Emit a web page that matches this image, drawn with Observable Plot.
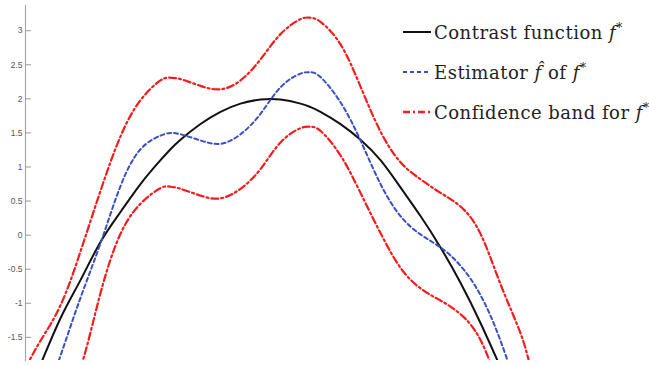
<!DOCTYPE html>
<html>
<head>
<meta charset="utf-8">
<script src="https://cdn.jsdelivr.net/npm/d3@7"></script>
<script src="https://cdn.jsdelivr.net/npm/@observablehq/plot@0.6"></script>
<style>
  html, body { margin: 0; padding: 0; background: #fff; }
  #wrap { position: relative; width: 649px; height: 366px; overflow: hidden; }
  #legend { position: absolute; left: 403px; top: 18px; font-family: "DejaVu Serif", serif; font-size: 18px; letter-spacing: 0.5px; color: #222; }
  .row { position: absolute; left: 0; height: 28px; display: flex; align-items: center; white-space: nowrap; }
  .row svg { display: block; margin-right: 2px; }
  .row i { font-style: italic; }
  sup { font-size: 12px; vertical-align: 7px; line-height: 0; }
</style>
</head>
<body>
<div id="wrap"></div>
<script>
// abscissa (arbitrary units, no axis shown)
const xs = [0.25, 0.40, 0.60, 0.80, 1.00, 1.20, 1.40, 1.60, 1.70, 1.80, 2.00, 2.20, 2.40, 2.60, 2.80, 3.00, 3.10, 3.20, 3.40, 3.60, 3.80, 4.00, 4.20, 4.40, 4.60, 4.80, 5.00, 5.20, 5.30];
// contrast function f*
const contrast = [-2.40, -1.90, -1.22, -0.66, -0.10, 0.34, 0.75, 1.10, 1.26, 1.40, 1.63, 1.81, 1.93, 1.99, 1.99, 1.93, 1.88, 1.81, 1.63, 1.40, 1.10, 0.70, 0.28, -0.18, -0.70, -1.29, -1.94, -2.60, -2.95];
// estimator f-hat
const estimator = [-3.2, -2.6, -1.77, -0.92, -0.12, 0.72, 1.26, 1.46, 1.50, 1.48, 1.39, 1.34, 1.48, 1.78, 2.17, 2.37, 2.39, 2.32, 1.95, 1.39, 0.75, 0.28, 0.01, -0.18, -0.45, -0.88, -1.55, -2.4, -2.8];
// confidence band
const upper = [-1.95, -1.55, -1.03, -0.24, 0.65, 1.45, 1.98, 2.27, 2.31, 2.29, 2.19, 2.14, 2.27, 2.58, 2.95, 3.17, 3.19, 3.13, 2.80, 2.18, 1.52, 1.07, 0.82, 0.62, 0.42, 0.02, -0.72, -1.44, -1.95];
const lower = [-4.0, -3.4, -2.6, -1.95, -0.85, 0.02, 0.46, 0.69, 0.71, 0.68, 0.58, 0.54, 0.68, 0.97, 1.36, 1.57, 1.59, 1.53, 1.17, 0.62, 0.03, -0.48, -0.78, -0.96, -1.16, -1.54, -2.3, -3.2, -3.6];
const yTicks = [-1.5, -1, -0.5, 0, 0.5, 1, 1.5, 2, 2.5, 3];
const xDomain = [0.25, 6.40];
const yDomain = [-1.84, 3.37];

const legendLabels = [
  {html: 'Contrast function <i>f</i><sup>*</sup>', stroke: "#111", dash: null, width: 2},
  {html: 'Estimator <i>f&#770;</i> of <i>f</i><sup>*</sup>', stroke: "#3a4fc2", dash: "4,3", width: 2},
  {html: 'Confidence band for <i>f</i><sup>*</sup>', stroke: "#f41c1c", dash: "7,3,2,3", width: 2.4}
];

const mk = (vals) => xs.map((x, i) => ({x, y: vals[i]}));

const chart = Plot.plot({
  width: 649,
  height: 366,
  marginLeft: 25,
  marginRight: 9,
  marginTop: 5,
  marginBottom: 6,
  x: {domain: xDomain, axis: null},
  y: {domain: yDomain, ticks: yTicks, label: null},
  style: {background: "#fff"},
  marks: [
    Plot.frame({anchor: "left", stroke: "#a8a8a8", strokeWidth: 1.2}),
    Plot.axisY({ticks: yTicks, label: null, tickSize: -6, tickPadding: 9, tickFormat: d => String(d), fontSize: 8.5, fontFamily: "Liberation Sans, Arial, sans-serif", stroke: "#999", fill: "#555"}),
    Plot.line(mk(upper), {x: "x", y: "y", stroke: legendLabels[2].stroke, strokeWidth: 2.2, strokeDasharray: legendLabels[2].dash, curve: "natural", clip: true}),
    Plot.line(mk(lower), {x: "x", y: "y", stroke: legendLabels[2].stroke, strokeWidth: 2.2, strokeDasharray: legendLabels[2].dash, curve: "natural", clip: true}),
    Plot.line(mk(contrast), {x: "x", y: "y", stroke: legendLabels[0].stroke, strokeWidth: 2, curve: "natural", clip: true}),
    Plot.line(mk(estimator), {x: "x", y: "y", stroke: legendLabels[1].stroke, strokeWidth: 2, strokeDasharray: legendLabels[1].dash, curve: "natural", clip: true})
  ]
});

const wrap = document.getElementById("wrap");
wrap.appendChild(chart);

const legend = document.createElement("div");
legend.id = "legend";
wrap.appendChild(legend);
legendLabels.forEach((d, i) => {
  const row = document.createElement("div");
  row.className = "row";
  row.style.top = (i * 40) + "px";
  const sw = d3.create("svg").attr("width", 29).attr("height", 10);
  sw.append("line").attr("x1", 0).attr("x2", 28).attr("y1", 5).attr("y2", 5)
    .attr("stroke", d.stroke).attr("stroke-width", d.width)
    .attr("stroke-dasharray", d.dash);
  row.appendChild(sw.node());
  const span = document.createElement("span");
  span.innerHTML = d.html;
  row.appendChild(span);
  legend.appendChild(row);
});
</script>
</body>
</html>
